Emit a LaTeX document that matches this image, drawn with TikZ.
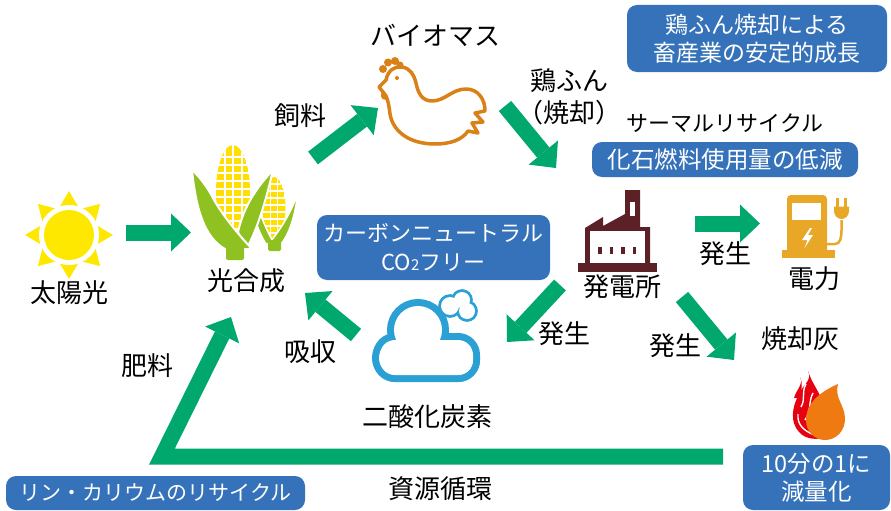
\documentclass[tikz,border=0pt]{standalone}
\usepackage{fontspec}
\newfontfamily\jp{Noto Sans CJK JP}
\usetikzlibrary{arrows.meta}

\definecolor{flowgreen}{RGB}{0,168,110}
\definecolor{boxblue}{RGB}{53,114,186}
\definecolor{sunyellow}{RGB}{255,232,0}
\definecolor{cornyellow}{RGB}{255,222,0}
\definecolor{leafgreen}{RGB}{143,194,32}
\definecolor{chick}{RGB}{217,128,22}
\definecolor{plant}{RGB}{92,33,38}
\definecolor{charge}{RGB}{232,167,38}
\definecolor{cloudblue}{RGB}{43,160,212}
\definecolor{firered}{RGB}{230,0,18}
\definecolor{fireorange}{RGB}{240,122,18}

\tikzset{
  lbl/.style={font=\jp\fontsize{26}{30}\selectfont, inner sep=0pt, text=black},
  smalllbl/.style={font=\jp\fontsize{22}{26}\selectfont, inner sep=0pt, text=black},
  infobox/.style={fill=boxblue, rounded corners=10pt, text=white, inner sep=0pt,
    align=center, font=\jp\fontsize{23}{28}\selectfont},
  flow/.style={draw=flowgreen, line width=16pt, line join=miter,
    -{Triangle[width=38pt,length=20pt,line width=0pt]}},
}

\begin{document}
\begin{tikzpicture}[x=1pt,y=-1pt]
\useasboundingbox (0,0) rectangle (891,511);

% ---------- sun ----------
\begin{scope}[shift={(69,235)}]
  \foreach \a in {0,45,...,315}
    \fill[sunyellow, rotate=\a] (0,-44) -- (-13,-22) -- (13,-22) -- cycle;
  \fill[white] (0,0) circle[radius=30pt];
  \fill[sunyellow] (0,0) circle[radius=25pt];
\end{scope}

% ---------- corn ----------
% small cob
\begin{scope}
  \clip (274,208) ellipse[x radius=11.5pt, y radius=31pt];
  \fill[cornyellow] (274,208) ellipse[x radius=11.5pt, y radius=31pt];
  \foreach \xx in {270.5,277.5} \draw[white, line width=1.6pt] (\xx,170) -- (\xx,245);
  \foreach \yy in {184,191,...,240} \draw[white, line width=1.6pt] (260,\yy) -- (290,\yy);
\end{scope}
\fill[leafgreen, draw=white, line width=1.5pt] (250,192) .. controls (258,205) and (263,225) .. (274,243)
  -- (266,244) .. controls (256,228) and (252,210) .. (250,192) -- cycle;
\fill[leafgreen, draw=white, line width=1.5pt] (298,193) .. controls (295,215) and (290,232) .. (282,243)
  -- (270,242) .. controls (282,228) and (292,210) .. (298,193) -- cycle;
\fill[leafgreen, rounded corners=1.5pt] (268,240) rectangle (281,251);
% large cob
\begin{scope}
  \clip (233,192) ellipse[x radius=17pt, y radius=47pt];
  \fill[cornyellow] (233,192) ellipse[x radius=17pt, y radius=47pt];
  \foreach \xx in {224.5,233,241.5} \draw[white, line width=2pt] (\xx,140) -- (\xx,245);
  \foreach \yy in {157,165,...,240} \draw[white, line width=2pt] (210,\yy) -- (255,\yy);
\end{scope}
\fill[leafgreen, draw=white, line width=2pt] (273,170) .. controls (258,186) and (244,205) .. (238,232)
  -- (246,250) .. controls (258,228) and (266,200) .. (273,170) -- cycle;
\fill[leafgreen, draw=white, line width=2pt] (192,170) .. controls (196,210) and (205,238) .. (225,249)
  -- (252,249) .. controls (236,232) and (222,214) .. (214,200)
  .. controls (208,188) and (200,177) .. (192,170) -- cycle;
\fill[leafgreen, rounded corners=2pt] (226,246) rectangle (244,260);

% ---------- chicken ----------
\fill[chick] (383,69) circle[radius=4pt] (388,62.5) circle[radius=4pt]
  (395,61) circle[radius=4pt] (400,65) circle[radius=3.5pt];
\fill[chick] (384,90) .. controls (379,93) and (380,100) .. (386,100) -- (389,92) -- cycle;
\draw[chick, line width=3.5pt, line join=round, line cap=round, fill=white]
  (379,87) -- (386,80)
  .. controls (388,70) and (395,66) .. (402,67)
  .. controls (410,68) and (414,75) .. (416,83)
  .. controls (418,93) and (422,101) .. (432,101)
  .. controls (445,101) and (452,89) .. (466,89)
  .. controls (478,89) and (485,99) .. (485,111)
  -- (475,113) -- (483,122) -- (472,123) -- (478,133) -- (468,131)
  .. controls (462,140) and (450,144) .. (435,144)
  .. controls (410,144) and (393,132) .. (390,114)
  .. controls (389,106) and (388,100) .. (386,96)
  -- (383,92) -- cycle;
\fill[chick] (397,78) circle[radius=2pt];

% ---------- power plant ----------
\fill[plant] (585,263) -- (585,228) -- (603,217) -- (603,226) -- (625,214) -- (625,190)
  -- (640,190) -- (640,227) -- (650,227) -- (650,263) -- cycle;
\fill[white] (590,231) rectangle (645,263);
\fill[white] (630,202) rectangle (635,216);
\foreach \xx in {598,609.5,621,632.5} \fill[plant] (\xx,247) rectangle ++(3.5,6.5);
\fill[plant] (578,263) rectangle (657,272);

% ---------- charger ----------
\fill[charge, rounded corners=4pt] (787,254) -- (787,195) -- (827,195) -- (827,254) -- cycle;
\fill[charge] (782,250) rectangle (835,258);
\fill[white] (792,203) rectangle (821,220);
\fill[white] (810,228) -- (802,240) -- (807.5,240) -- (804.5,248) -- (813,235) -- (808,235) -- (812,228) -- cycle;
\draw[charge, line width=2.5pt] (826,244) -- (835,244) .. controls (840,244) and (841.5,238) .. (841.5,230) -- (841.5,220);
\fill[charge] (834,206.5) -- (849,206.5) -- (849,211) .. controls (849,216) and (845,219) .. (841.5,219)
  .. controls (838,219) and (834,216) .. (834,211) -- cycle;
\fill[charge] (836,198) rectangle (839,207);
\fill[charge] (844,198) rectangle (847,207);

% ---------- cloud ----------
% small puff behind: outline of the union of three circles
\draw[cloudblue, line width=5.6pt] (450,306) circle[radius=9pt] (462,300) circle[radius=8pt]
  (467,311) circle[radius=8pt];
\fill[white] (450,306) circle[radius=9pt] (462,300) circle[radius=8pt]
  (467,311) circle[radius=8pt];
% main cloud
\draw[cloudblue, line width=14pt] (396,358) circle[radius=17pt] (418,330) circle[radius=24pt]
  (458,360) circle[radius=15pt];
\draw[cloudblue, line width=14pt, rounded corners=15pt] (380,340) rectangle (473,375);
\fill[white] (396,358) circle[radius=17pt] (418,330) circle[radius=24pt] (458,360) circle[radius=15pt];
\fill[white, rounded corners=15pt] (380,340) rectangle (473,375);

% ---------- fire ----------
\fill[firered] (808,371) .. controls (813,381) and (801,386) .. (798,396)
  .. controls (792,408) and (790,422) .. (799,432)
  .. controls (806,440) and (818,440) .. (826,437) -- (822,400)
  .. controls (818,390) and (812,383) .. (808,371) -- cycle;
\fill[firered] (800,377) .. controls (804,384) and (796,390) .. (794,398) -- (799,398)
  .. controls (802,390) and (803,384) .. (800,377) -- cycle;
\draw[white, line width=1.4pt] (806,384) .. controls (801,393) and (806,398) .. (801,407);
\draw[white, line width=1.4pt] (813,393) .. controls (808,402) and (812,410) .. (805,420);
\draw[white, line width=1.4pt] (798,414) .. controls (797,424) and (803,430) .. (812,434);
\fill[fireorange] (838,384) .. controls (822,391) and (806,402) .. (806,420)
  .. controls (806,432) and (815,440) .. (825,440)
  .. controls (836,440) and (845,431) .. (845,419)
  .. controls (845,405) and (834,398) .. (838,384) -- cycle;

% ---------- information boxes ----------
\node[infobox, minimum width=260pt, minimum height=67pt] (bxgrowth) at (757,38.5)
  {鶏ふん焼却による\\畜産業の安定的成長};
\node[infobox, minimum width=266pt, minimum height=35pt, font=\jp\fontsize{23.5}{28}\selectfont] (bxfossil) at (725,159.5)
  {化石燃料使用量の低減};
\node[infobox, minimum width=233pt, minimum height=65pt, font=\jp\fontsize{22}{29}\selectfont] (bxneutral) at (433.5,247.5)
  {カーボンニュートラル\\CO{\fontsize{15}{15}\selectfont 2}フリー};
\node[infobox, minimum width=147pt, minimum height=65pt, font=\jp\fontsize{23.5}{28}\selectfont] (bxreduce) at (816.5,477.5)
  {10分の1に\\減量化};
\node[infobox, minimum width=299pt, minimum height=34pt, font=\jp\fontsize{21}{26}\selectfont] (bxrecycle) at (155.5,493)
  {リン・カリウムのリサイクル};

% ---------- labels ----------
\node[lbl] (tsun) at (69,293) {太陽光};
\node[lbl] (tphoto) at (246,281) {光合成};
\node[lbl] (tfeed) at (300,116) {飼料};
\node[lbl] (tbio) at (435,35) {バイオマス};
\node[lbl, align=center, font=\jp\fontsize{26}{32}\selectfont] (tmanure) at (569,97) {鶏ふん\\（焼却）};
\node[smalllbl] (tthermal) at (725,123) {サーマルリサイクル};
\node[lbl] (tplant) at (622,287) {発電所};
\node[lbl] (tgen1) at (725,254) {発生};
\node[lbl] (tpower) at (814,279) {電力};
\node[lbl] (tash) at (800,339) {焼却灰};
\node[lbl] (tgen2) at (675,346) {発生};
\node[lbl] (tgen3) at (564,334) {発生};
\node[lbl] (tco2) at (427,417) {二酸化炭素};
\node[lbl] (tabs) at (310,352) {吸収};
\node[lbl] (tfert) at (147,366) {肥料};
\node[lbl] (tcycle) at (440,489) {資源循環};

% ---------- flow arrows ----------
\coordinate (sunout) at (126,232.5);  \coordinate (cornin) at (191,232.5);
\coordinate (cornout) at (313,158);   \coordinate (chickin) at (378,108);
\coordinate (chickout) at (505,106);  \coordinate (plantin) at (556,168);
\coordinate (plantright) at (695,223.5); \coordinate (powerin) at (760,223.5);
\coordinate (plantdown) at (682,297); \coordinate (ashin) at (734,360);
\coordinate (plantleft) at (560,285); \coordinate (cloudin) at (507,342);
\coordinate (cloudout) at (356,335);  \coordinate (cornback) at (305,293);
\coordinate (ashout) at (723,456.5);  \coordinate (cycbend) at (162,456.5);
\coordinate (cornroot) at (231,317);

\draw[flow] (sunout) -- (cornin);
\draw[flow] (cornout) -- (chickin);
\draw[flow] (chickout) -- (plantin);
\draw[flow] (plantright) -- (powerin);
\draw[flow] (plantdown) -- (ashin);
\draw[flow] (plantleft) -- (cloudin);
\draw[flow] (cloudout) -- (cornback);
\draw[flow] (ashout) -- (cycbend) -- (cornroot);
\end{tikzpicture}
\end{document}
